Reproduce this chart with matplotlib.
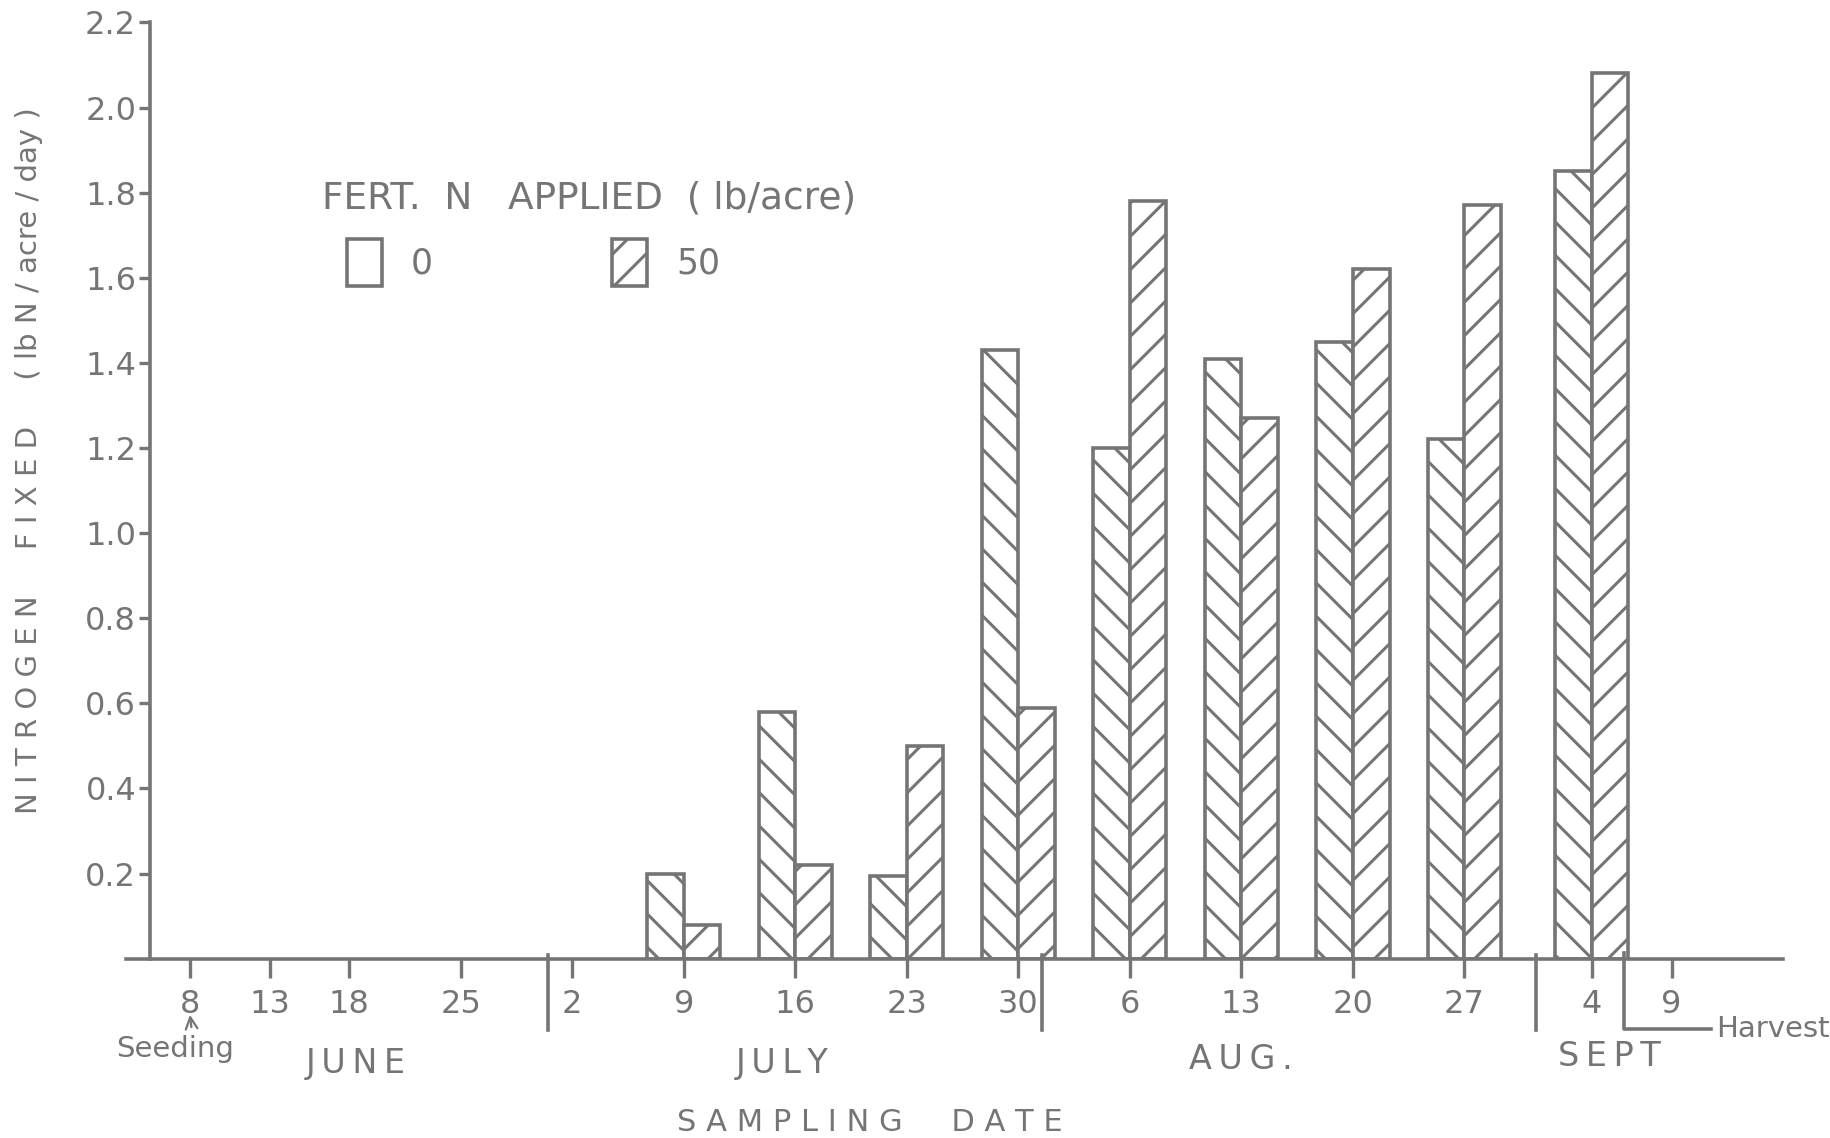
import numpy as np
import matplotlib
matplotlib.use("Agg")
import matplotlib.pyplot as plt
from matplotlib.patches import Patch

# dates are counted in days from 1 June (July 1 = 31, Aug 1 = 62, Sept 1 = 93)
tick_days = [8, 13, 18, 25, 32, 39, 46, 53, 60, 67, 74, 81, 88, 96, 101]
tick_labels = ['8', '13', '18', '25', '2', '9', '16', '23', '30',
               '6', '13', '20', '27', '4', '9']
sample_days = [39, 46, 53, 60, 67, 74, 81, 88, 96]
fixed_0N = [0.20, 0.58, 0.195, 1.43, 1.20, 1.41, 1.45, 1.22, 1.85]
fixed_50N = [0.08, 0.22, 0.50, 0.59, 1.78, 1.27, 1.62, 1.77, 2.08]
months = ['JUNE', 'JULY', 'AUG.', 'SEPT']
month_starts = [31, 62, 93]
seeding_day = 8
harvest_day = 98

gray = '#757575'
plt.rcParams['font.family'] = ['DejaVu Sans']
plt.rcParams['hatch.linewidth'] = 1.1
plt.rcParams['text.color'] = gray


def spaced(s):
    # hand lettering is spread out a bit
    return '\u2009'.join(s)


fig = plt.figure(figsize=(9.155, 5.69), dpi=200)
ax = fig.add_axes([0.0689, 0.1576, 0.9049, 0.8227])

w = 2.3
x = np.array(sample_days)
ax.bar(x - w / 2, fixed_0N, w, facecolor='white', edgecolor=gray,
       hatch='\\\\', lw=1.3)
ax.bar(x + w / 2, fixed_50N, w, facecolor='white', edgecolor=gray,
       hatch='//', lw=1.3)

ax.set_xlim(4, 108)
ax.set_ylim(0, 2.2)
for s in ['top', 'right']:
    ax.spines[s].set_visible(False)
for s in ['left', 'bottom']:
    ax.spines[s].set_color(gray)
    ax.spines[s].set_linewidth(1.3)
ax.spines['left'].set_position(('data', 5.5))
ax.spines['left'].set_bounds(0, 2.2)

yt = np.arange(0.2, 2.21, 0.2)
ax.set_yticks(yt)
ax.set_yticklabels(['%.1f' % v for v in yt])
ax.set_xticks(tick_days)
ax.set_xticklabels(tick_labels)
ax.tick_params(axis='y', direction='out', length=4, width=1.2, color=gray,
               labelcolor=gray, labelsize=11.5, pad=1)
ax.tick_params(axis='x', direction='out', length=7, width=1.2, color=gray,
               labelcolor=gray, labelsize=11.5, pad=4)

trans = ax.get_xaxis_transform()
# month boundaries
for d in month_starts:
    ax.plot([d - 0.5, d - 0.5], [0.004, -0.076], transform=trans,
            clip_on=False, color=gray, lw=1.3)
for name, mx, my in zip(months, [18.4, 45.2, 74.0, 97.1],
                        [-0.112, -0.112, -0.108, -0.105]):
    ax.text(mx, my, spaced(name), transform=trans, ha='center', va='center',
            fontsize=12)

# harvest marker
ax.plot([harvest_day, harvest_day, 103.5], [0.006, -0.075, -0.075],
        transform=trans, clip_on=False, color=gray, lw=1.3)
ax.text(103.8, -0.075, 'Harvest', transform=trans, ha='left', va='center',
        fontsize=10.5)

# seeding arrow
ax.annotate('Seeding', xy=(seeding_day, -0.060), xycoords=trans,
            xytext=(seeding_day - 0.95, -0.097), textcoords=trans,
            ha='center', va='center', fontsize=10.5,
            arrowprops=dict(arrowstyle='->', color=gray, lw=0.8,
                            shrinkA=1, shrinkB=0, relpos=(0.65, 1.0)))

fig.text(0.0158, 0.595,
         'N I T R O G E N     F I X E D     ( lb N / acre / day )',
         rotation=90, ha='center', va='center', fontsize=10.5)
fig.text(0.475, 0.0132, 'S A M P L I N G     D A T E',
         ha='center', va='center', fontsize=11)

fig.text(0.1759, 0.8256, 'FERT.  N   APPLIED  ( lb/acre)', ha='left',
         va='center', fontsize=13.5)
handles = [Patch(facecolor='white', edgecolor=gray, lw=1.3),
           Patch(facecolor='white', edgecolor=gray, hatch='//', lw=1.3)]
ax.legend(handles, ['0', '50'], ncol=2, loc='upper left',
          bbox_to_anchor=(0.1895, 0.790), bbox_transform=fig.transFigure,
          frameon=False, borderpad=0, borderaxespad=0, handlelength=1.0,
          handleheight=1.7, handletextpad=0.85, columnspacing=5.15,
          fontsize=12.5, labelcolor=gray)

fig.savefig('out.png', dpi=200, facecolor='white')
